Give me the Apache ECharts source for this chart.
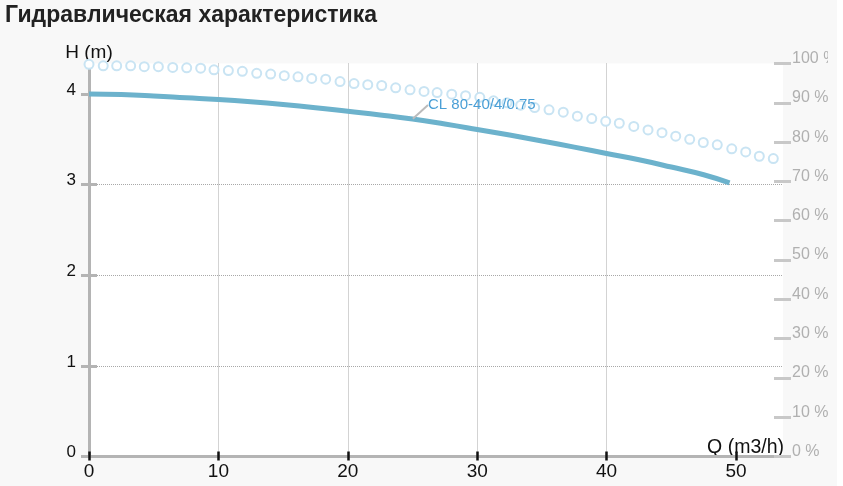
<!DOCTYPE html>
<html>
<head>
<meta charset="utf-8">
<script src="https://cdn.jsdelivr.net/npm/echarts@6/dist/echarts.min.js"></script>
<style>
  html, body { margin: 0; padding: 0; background: #ffffff; }
  #wrap { width: 837px; height: 486px; background: #f8f8f8; }
  #chart { width: 828px; height: 486px; }
</style>
</head>
<body>
<div id="wrap"><div id="chart"></div></div>
<script>
// ---- data ----
const titleText = 'Гидравлическая характеристика';
const pumpName = 'CL 80-40/4/0.75';
const xName = 'Q (m3/h)';
const yName = 'H (m)';
const xTicks = [0, 10, 20, 30, 40, 50];
const yTicks = [0, 1, 2, 3, 4];
// head curve H(Q)
const headQ = [0, 2.5, 5, 7.5, 10, 12.5, 15, 17.5, 20, 22.5, 25, 27.5, 30, 32.5, 35, 37.5, 40, 42.5, 45, 47.5, 49.5];
const headH = [4.00, 3.995, 3.98, 3.96, 3.94, 3.915, 3.885, 3.85, 3.81, 3.77, 3.725, 3.67, 3.61, 3.548, 3.482, 3.415, 3.345, 3.275, 3.195, 3.11, 3.02];
// efficiency (%) circles
const effQ = [0, 1.1, 2.14, 3.22, 4.27, 5.36, 6.47, 7.55, 8.63, 9.66, 10.77, 11.85, 12.96, 14.04, 15.09, 16.15, 17.21, 18.29, 19.4, 20.48, 21.54, 22.62, 23.7, 24.81, 25.89, 26.9, 28.03, 29.1, 30.2, 31.26, 32.3, 33.36, 34.44, 35.55, 36.65, 37.74, 38.85, 39.93, 40.98, 42.1, 43.2, 44.28, 45.34, 46.42, 47.47, 48.55, 49.67, 50.75, 51.8, 52.88];
const effV = [99.8, 99.4, 99.4, 99.4, 99.2, 99.2, 99.0, 98.9, 98.8, 98.4, 98.2, 98.0, 97.5, 97.3, 96.9, 96.6, 96.2, 96.0, 95.4, 94.9, 94.6, 94.4, 93.8, 93.3, 92.9, 92.6, 92.2, 91.8, 91.4, 90.5, 90.0, 89.4, 88.8, 88.2, 87.6, 86.6, 86.0, 85.3, 84.8, 84.0, 83.1, 82.4, 81.5, 80.7, 79.9, 79.3, 78.3, 77.5, 76.4, 75.8];
const labelAtQ = 25;

const FONT = '"Liberation Sans", Arial, sans-serif';
const chart = echarts.init(document.getElementById('chart'), null, { renderer: 'canvas' });

const labelIndex = headQ.indexOf(labelAtQ);
const headData = headQ.map((q, i) => {
  const item = { value: [q, headH[i]] };
  if (i === labelIndex) {
    item.label = {
      show: true, position: 'right', distance: 5,
      formatter: pumpName, color: '#4a9fd6', fontSize: 15, fontFamily: FONT
    };
    item.labelLine = { show: true, lineStyle: { color: '#bbbbbb', width: 2 } };
  }
  return item;
});

const axisGray = '#b4b4b4';

chart.setOption({
  animation: false,
  backgroundColor: '#f8f8f8',
  title: {
    text: titleText, left: 5, top: 4, padding: 0,
    textStyle: { fontFamily: FONT, fontSize: 23, fontWeight: 'bold', color: '#222222' }
  },
  grid: {
    left: 89, top: 63.5, width: 694, height: 393,
    show: true, backgroundColor: '#ffffff', borderWidth: 0,
    containLabel: false, outerBoundsMode: 'none'
  },
  xAxis: [{
    type: 'value', min: 0, max: 53.63, interval: 10,
    name: xName, nameLocation: 'end', nameGap: 1,
    nameTextStyle: { fontFamily: FONT, fontSize: 19.5, color: '#111111', align: 'right', verticalAlign: 'bottom', lineHeight: 17 },
    axisLine: { show: true, lineStyle: { color: axisGray, width: 3 } },
    axisTick: { show: true, inside: false, length: 4, customValues: xTicks, lineStyle: { color: '#111111', width: 2.5 } },
    axisLabel: { show: true, customValues: xTicks, margin: 6, fontFamily: FONT, fontSize: 19, color: '#111111' },
    splitLine: { show: true, showMinLine: false, showMaxLine: false, lineStyle: { color: '#a8a8a8', type: 'dotted', width: 1 } }
  }, {
    type: 'value', min: 0, max: 53.63, interval: 10, position: 'bottom',
    axisLine: { show: false },
    axisTick: { show: true, inside: true, length: 5, customValues: xTicks, lineStyle: { color: '#111111', width: 2.5 } },
    axisLabel: { show: false },
    splitLine: { show: false }
  }],
  yAxis: [{
    type: 'value', min: 0, max: 4.338, interval: 1, position: 'left',
    name: yName, nameLocation: 'end', nameGap: 1,
    nameTextStyle: { fontFamily: FONT, fontSize: 19, color: '#111111', align: 'center' },
    axisLine: { show: true, lineStyle: { color: axisGray, width: 3 } },
    axisTick: { show: true, inside: false, length: 8, customValues: yTicks, lineStyle: { color: axisGray, width: 3 } },
    axisLabel: { show: true, customValues: yTicks, margin: 13, fontFamily: FONT, fontSize: 17, color: '#111111', verticalAlign: 'bottom', lineHeight: 8 },
    splitLine: { show: true, showMinLine: false, showMaxLine: false, lineStyle: { color: '#a8a8a8', type: 'dotted', width: 1 } }
  }, {
    type: 'value', min: 0, max: 4.338, interval: 1, position: 'left', offset: 0,
    axisLine: { show: false },
    axisTick: { show: true, inside: true, length: 8, customValues: yTicks, lineStyle: { color: axisGray, width: 3 } },
    axisLabel: { show: false },
    splitLine: { show: false }
  }, {
    type: 'value', min: 0, max: 100, interval: 10, position: 'right', offset: 0,
    axisLine: { show: false },
    axisTick: { show: true, inside: false, length: 8, lineStyle: { color: '#c8c8c8', width: 3 } },
    axisLabel: { show: true, margin: 9, fontFamily: FONT, fontSize: 16, color: '#b0b0b0', verticalAlign: 'bottom', lineHeight: 10, formatter: v => v + ' %' },
    splitLine: { show: false }
  }, {
    type: 'value', min: 0, max: 100, interval: 10, position: 'right', offset: 0,
    axisLine: { show: false },
    axisTick: { show: true, inside: true, length: 9, lineStyle: { color: '#c8c8c8', width: 3 } },
    axisLabel: { show: false },
    splitLine: { show: false }
  }],
  series: [{
    name: 'efficiency', type: 'line', xAxisIndex: 0, yAxisIndex: 2,
    data: effQ.map((q, i) => [q, effV[i]]),
    symbol: 'emptyCircle', symbolSize: 9,
    itemStyle: { color: '#c9e4f3', borderColor: '#c9e4f3', borderWidth: 2.6 },
    lineStyle: { width: 0, opacity: 0 },
    silent: true, z: 3
  }, {
    name: pumpName, type: 'line', xAxisIndex: 0, yAxisIndex: 0,
    data: headData,
    smooth: true, showSymbol: true, symbol: 'circle', symbolSize: 1,
    lineStyle: { color: '#6cb2cc', width: 5 },
    itemStyle: { color: 'rgba(0,0,0,0)' },
    labelLayout: function (params) {
      if (params.dataIndex === labelIndex) {
        return { dx: 10, dy: -14 };
      }
      return {};
    },
    silent: true, z: 4
  }]
});
</script>
</body>
</html>
